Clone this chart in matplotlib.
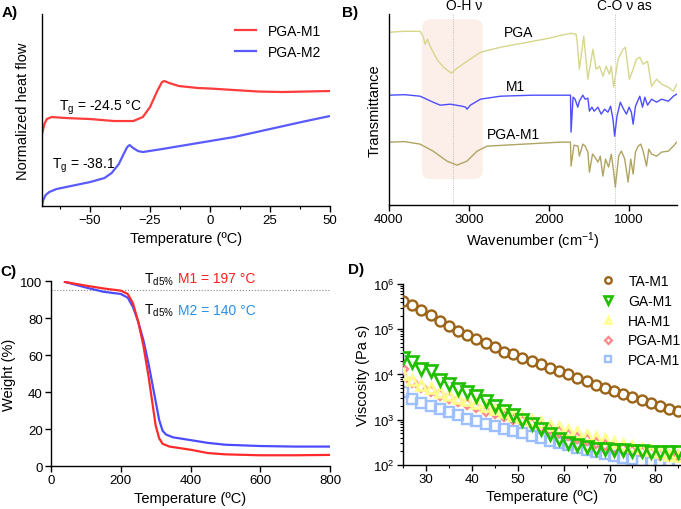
import matplotlib
matplotlib.use("Agg")
import matplotlib.pyplot as plt
from matplotlib.patches import FancyBboxPatch
from matplotlib.ticker import MultipleLocator, LogLocator, NullFormatter

plt.rcParams['font.family'] = ['Liberation Sans', 'DejaVu Sans']
plt.rcParams['mathtext.fontset'] = 'custom'
plt.rcParams['mathtext.rm'] = 'Liberation Sans'
plt.rcParams['mathtext.it'] = 'Liberation Sans'
plt.rcParams['axes.linewidth'] = 1.0

# ---- A) DSC ----
dsc_t_m1 = [-70, -69, -68, -66, -60, -50, -40, -32, -28, -25, -22, -20, -19, -17, -13, -5, 0, 10, 20, 30, 40, 50]
dsc_m1 = [72, 82, 87, 89, 88, 87, 85, 85, 89, 99, 115, 124, 125, 123, 120, 118, 117.5, 116, 114.5, 114, 114.5, 115]
dsc_t_m2 = [-70, -69.5, -68.5, -67, -64, -60, -50, -44, -41, -38, -36, -34.5, -33.5, -32, -30, -28, -20, -10, 0, 10, 25, 40, 50]
dsc_m2 = [0, 6, 11, 14, 17, 19, 24, 28, 33, 42, 52, 59, 61, 58, 55, 54, 57, 61, 65, 69, 77, 85, 90]

# ---- B) FTIR ----
ir_pga_x = [4000, 3900, 3800, 3700, 3610, 3568, 3547, 3518, 3484, 3400, 3317, 3220, 3148, 3023, 2855, 2604,
            2400, 2200, 2000, 1849, 1720, 1660, 1648, 1619, 1564, 1513, 1450, 1409, 1367, 1325, 1283, 1245,
            1220, 1190, 1136, 1073, 1044, 994, 947, 906, 864, 822, 767, 717, 654, 591, 507, 444, 403]
ir_pga = [173, 173.5, 174, 174, 174, 168, 161, 166, 159, 146, 138, 132, 137, 144, 153, 158,
          161, 164, 167, 170, 172, 171, 165, 136, 169, 126, 156, 136, 139, 129, 139, 131,
          139, 118, 146, 156, 158, 126, 136, 146, 148, 141, 144, 119, 126, 121, 118, 114, 121]
ir_m1_x = [4000, 3800, 3610, 3447, 3358, 3233, 3086, 3040, 3023, 2981, 2855, 2604, 2200, 1849, 1730, 1723,
           1698, 1673, 1639, 1619, 1576, 1547, 1513, 1493, 1463, 1434, 1387, 1346, 1304, 1262, 1229,
           1199, 1178, 1149, 1107, 1073, 1031, 998, 969, 947, 918, 864, 830, 801, 767, 717, 654, 591,
           507, 444, 403]
ir_m1 = [110, 110.5, 109, 103, 100, 101, 99, 98, 96, 100, 106, 109, 110, 110, 110, 73,
         108, 106, 98, 104, 110, 106, 107, 94, 98, 94, 98, 91, 96, 93, 99,
         86, 69, 89, 103, 97, 91, 98, 93, 81, 99, 109, 98, 108, 100, 106, 103, 106,
         104, 109, 111]
ir_pgam1_x = [4000, 3800, 3610, 3447, 3274, 3148, 3023, 2897, 2771, 2314, 1849, 1730, 1723, 1686, 1636,
              1619, 1576, 1547, 1513, 1493, 1455, 1434, 1387, 1358, 1325, 1292, 1254, 1220, 1190, 1170,
              1128, 1094, 1052, 1010, 977, 947, 918, 885, 851, 822, 780, 751, 717, 654, 591, 507, 444, 403]
ir_pgam1 = [63, 63.5, 61, 54, 44, 40, 44, 54, 59, 61, 63, 63, 39, 60, 59,
            49, 61, 59, 53, 33, 51, 49, 43, 49, 29, 46, 38, 51, 33, 18,
            49, 54, 46, 23, 46, 31, 53, 59, 61, 54, 39, 56, 51, 49, 53, 54, 59, 63]

# ---- C) TGA ----
tga_t = [40, 100, 150, 200, 220, 235, 250, 265, 280, 290, 300, 310, 320, 340, 400, 450, 500, 600, 700, 800]
tga_m1 = [99.5, 97.5, 96, 94.8, 93, 88, 78, 65, 48, 35, 22, 15, 12, 10.5, 8.8, 7, 6.3, 5.8, 5.8, 6]
tga_t2 = [40, 100, 150, 200, 220, 235, 250, 265, 280, 290, 300, 310, 320, 330, 350, 400, 450, 500, 600, 700, 800]
tga_m2 = [99.5, 96.5, 94.2, 93, 91, 86, 78, 68, 55, 45, 35, 25, 19, 17, 15.5, 14, 12.5, 11.5, 10.8, 10.5, 10.5]

# ---- D) viscosity ----
visc_t = list(range(25, 86, 2))
visc_ta = [4.3e5, 3.4e5, 2.7e5, 2.05e5, 1.55e5, 1.2e5, 9.3e4, 7.6e4, 6.2e4, 4.9e4, 4.0e4, 3.2e4, 2.8e4, 2.3e4,
           2.0e4, 1.7e4, 1.4e4, 1.2e4, 1.05e4, 8.5e3, 7.1e3, 6.0e3, 5.0e3, 4.3e3, 3.7e3, 3.2e3, 2.7e3,
           2.3e3, 2.0e3, 1.74e3, 1.6e3]
visc_ga = [2.3e4, 1.9e4, 1.35e4, 1.2e4, 7.5e3, 6.2e3, 4.8e3, 4.1e3, 3.4e3, 2.6e3, 2.0e3, 1.6e3, 1.25e3,
           1.0e3, 790, 620, 480, 370, 300, 270, 245, 230, 220, 215, 210, 205, 200, 198, 196, 196, 198]
visc_ha = [1.0e4, 7.5e3, 6.0e3, 5.0e3, 4.2e3, 3.6e3, 3.1e3, 2.7e3, 2.3e3, 2.0e3, 1.75e3, 1.5e3, 1.3e3,
           1.15e3, 1.0e3, 880, 770, 680, 600, 530, 470, 420, 370, 330, 290, 260, 235, 210, 190, 170, 155]
visc_pga = [1.3e4, 6.8e3, 5.2e3, 4.3e3, 3.6e3, 3.0e3, 2.6e3, 2.2e3, 1.9e3, 1.6e3, 1.4e3, 1.2e3, 1.05e3,
            920, 800, 700, 610, 530, 460, 400, 350, 310, 270, 240, 220, 200, 190, 180, 170, 160, 155]
visc_pca = [4.0e3, 2.9e3, 2.4e3, 2.0e3, 1.7e3, 1.45e3, 1.25e3, 1.05e3, 920, 820, 740, 640, 560, 500,
            440, 390, 340, 300, 270, 240, 215, 195, 175, 160, 145, 135, 125, 118, 112, 108, 106]

fig = plt.figure(figsize=(6.81, 5.10), dpi=100)
tick_fs = 9.5
lab_fs = 10.5


def style(ax):
    ax.spines['top'].set_visible(False)
    ax.spines['right'].set_visible(False)
    ax.tick_params(direction='out', length=4, width=1, labelsize=tick_fs, pad=2)
    ax.tick_params(which='minor', direction='out', length=2.5, width=0.8)


# A
axA = fig.add_axes([0.0617, 0.594, 0.4229, 0.3766])
style(axA)
axA.plot(dsc_t_m1, dsc_m1, color='#ff3b3b', lw=1.6, label='PGA-M1')
axA.plot(dsc_t_m2, dsc_m2, color='#5a5aff', lw=1.6, label='PGA-M2')
axA.set_xlim(-70, 50)
axA.set_ylim(0, 192)
axA.set_yticks([])
axA.xaxis.set_major_locator(MultipleLocator(25))
axA.xaxis.set_minor_locator(MultipleLocator(12.5))
axA.set_xlabel('Temperature (ºC)', fontsize=lab_fs, labelpad=3)
axA.set_ylabel('Normalized heat flow', fontsize=lab_fs, labelpad=9)
axA.text(-63, 99, r'T$_{\mathregular{g}}$ = -24.5 °C', fontsize=10, va='center')
axA.text(-66, 41, r'T$_{\mathregular{g}}$ = -38.1', fontsize=10, va='center')
axA.legend(loc='center left', bbox_to_anchor=(0.67, 0.857), frameon=False, fontsize=tick_fs + 0.5,
           handlelength=1.5, handletextpad=0.9, labelspacing=0.45, borderpad=0, borderaxespad=0)
fig.text(0.003, 0.975, 'A)', fontsize=11, fontweight='bold', va='center')

# B
axB = fig.add_axes([0.571, 0.596, 0.423, 0.374])
style(axB)
box = FancyBboxPatch((0.115, 0.136), 0.211, 0.838, boxstyle='round,pad=0,rounding_size=0.03',
                     mutation_aspect=1.51, transform=axB.transAxes, facecolor='#fcefe9',
                     edgecolor='none', zorder=0)
axB.add_patch(box)
axB.axvline(3200, color='#aaaaaa', lw=0.6, ls=':', zorder=1)
axB.axvline(1180, color='#aaaaaa', lw=0.6, ls=':', zorder=1)
axB.plot(ir_pga_x, ir_pga, color='#d6d68c', lw=1.0)
axB.plot(ir_m1_x, ir_m1, color='#4d4dff', lw=1.0)
axB.plot(ir_pgam1_x, ir_pgam1, color='#b0a462', lw=1.0)
axB.set_xlim(4000, 400)
axB.set_ylim(0, 191)
axB.set_yticks([])
axB.set_xticks([4000, 3000, 2000, 1000])
axB.set_xlabel('Wavenumber (cm$^{-1}$)', fontsize=lab_fs, labelpad=3)
axB.set_ylabel('Transmittance', fontsize=lab_fs, labelpad=5)
axB.text(2380, 173, 'PGA', fontsize=tick_fs + 0.5, ha='center', va='center')
axB.text(2415, 119, 'M1', fontsize=tick_fs + 0.5, ha='center', va='center')
axB.text(2440, 71, 'PGA-M1', fontsize=tick_fs + 0.5, ha='center', va='center')
axB.text(3060, 200, 'O-H ν', fontsize=tick_fs + 0.5, ha='center', va='center', clip_on=False)
axB.text(1060, 200, 'C-O ν as', fontsize=tick_fs + 0.5, ha='center', va='center', clip_on=False)
fig.text(0.502, 0.975, 'B)', fontsize=11, fontweight='bold', va='center')

# C
axC = fig.add_axes([0.0749, 0.0843, 0.4097, 0.3627])
style(axC)
axC.axhline(95, color='#888888', lw=0.8, ls=':')
axC.plot(tga_t2, tga_m2, color='#4b4bff', lw=1.6)
axC.plot(tga_t, tga_m1, color='#ff2a2a', lw=1.6)
axC.set_xlim(0, 800)
axC.set_ylim(0, 100)
axC.set_xticks([0, 200, 400, 600, 800])
axC.set_yticks([0, 20, 40, 60, 80, 100])
axC.set_xlabel('Temperature (ºC)', fontsize=lab_fs, labelpad=3)
axC.set_ylabel('Weight (%)', fontsize=lab_fs, labelpad=3)
axC.text(352, 99.3, r'T$_{\mathregular{d5\%}}$', fontsize=10, ha='right', va='baseline', clip_on=False)
axC.text(363, 99.3, 'M1 = 197 °C', fontsize=10, color='#ff2020', ha='left', va='baseline', clip_on=False)
axC.text(352, 82.2, r'T$_{\mathregular{d5\%}}$', fontsize=10, ha='right', va='baseline')
axC.text(363, 82.2, 'M2 = 140 °C', fontsize=10, color='#2a8fe6', ha='left', va='baseline')
fig.text(0.0, 0.467, 'C)', fontsize=11, fontweight='bold', va='center')

# D
axD = fig.add_axes([0.5918, 0.0863, 0.4077, 0.3549])
style(axD)
ms = 7.2
axD.plot(visc_t, visc_pca, 's', ms=ms - 0.6, mfc='none', mec='#9cc0ff', mew=1.7, label='PCA-M1', zorder=2)
axD.plot(visc_t, visc_pga, 'D', ms=ms - 1.8, mfc='none', mec='#ff8a8a', mew=1.7, label='PGA-M1', zorder=3)
axD.plot(visc_t, visc_ha, '^', ms=ms + 0.5, mfc='none', mec='#ffff8c', mew=1.9, label='HA-M1', zorder=4)
axD.plot(visc_t, visc_ga, 'v', ms=ms + 0.8, mfc='none', mec='#1fbf00', mew=1.9, label='GA-M1', zorder=5)
axD.plot(visc_t, visc_ta, 'o', ms=ms, mfc='none', mec='#9c6418', mew=1.7, label='TA-M1', zorder=6)
axD.set_yscale('log')
axD.set_xlim(25, 85.5)
axD.set_ylim(1e2, 1e6)
axD.xaxis.set_major_locator(MultipleLocator(10))
axD.xaxis.set_minor_locator(MultipleLocator(5))
axD.yaxis.set_major_locator(LogLocator(base=10, numticks=10))
axD.yaxis.set_minor_locator(LogLocator(base=10, subs=range(2, 10), numticks=20))
axD.yaxis.set_minor_formatter(NullFormatter())
axD.set_xlabel('Temperature (ºC)', fontsize=lab_fs, labelpad=3)
axD.set_ylabel('Viscosity (Pa s)', fontsize=lab_fs, labelpad=2)
h, l = axD.get_legend_handles_labels()
axD.legend(h[::-1], l[::-1], loc='center left', bbox_to_anchor=(0.714, 0.798), frameon=False,
           fontsize=tick_fs + 0.5, markerscale=0.65, handlelength=1.0, handletextpad=0.95,
           labelspacing=0.42, borderpad=0, borderaxespad=0)
fig.text(0.511, 0.471, 'D)', fontsize=11, fontweight='bold', va='center')

fig.savefig('out.png', dpi=100)
